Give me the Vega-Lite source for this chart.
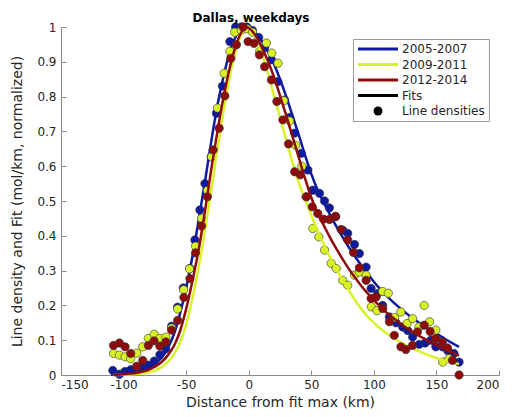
{
  "$schema": "https://vega.github.io/schema/vega-lite/v6.json",
  "width": 438,
  "height": 348,
  "autosize": {"type": "none"},
  "padding": {"left": 61, "top": 27, "right": 16, "bottom": 42},
  "background": "white",
  "title": {"text": "Dallas, weekdays", "font": "DejaVu Sans", "fontSize": 12, "fontWeight": "bold", "color": "#000000", "anchor": "middle", "dx": -29, "offset": -4},
  "config": {
    "view": {"stroke": null},
    "axis": {"grid": false, "domainColor": "#8a8a8a", "tickColor": "#8a8a8a", "labelFont": "DejaVu Sans", "labelFontSize": 12, "labelColor": "#262626", "titleFont": "DejaVu Sans", "titleFontSize": 14, "titleFontWeight": "normal", "titleColor": "#262626", "tickSize": -5}
  },
  "datasets": {
    "fits": [
      {"s": "2005-2007", "x": -110, "y": 0.001}, {"s": "2005-2007", "x": -105, "y": 0.002}, {"s": "2005-2007", "x": -100, "y": 0.004}, {"s": "2005-2007", "x": -95, "y": 0.006}, {"s": "2005-2007", "x": -90, "y": 0.009}, {"s": "2005-2007", "x": -85, "y": 0.014}, {"s": "2005-2007", "x": -80, "y": 0.021}, {"s": "2005-2007", "x": -75, "y": 0.032}, {"s": "2005-2007", "x": -70, "y": 0.048}, {"s": "2005-2007", "x": -65, "y": 0.075}, {"s": "2005-2007", "x": -60, "y": 0.115}, {"s": "2005-2007", "x": -55, "y": 0.175}, {"s": "2005-2007", "x": -50, "y": 0.25}, {"s": "2005-2007", "x": -45, "y": 0.34}, {"s": "2005-2007", "x": -40, "y": 0.445}, {"s": "2005-2007", "x": -35, "y": 0.555}, {"s": "2005-2007", "x": -30, "y": 0.67}, {"s": "2005-2007", "x": -25, "y": 0.775}, {"s": "2005-2007", "x": -20, "y": 0.86}, {"s": "2005-2007", "x": -15, "y": 0.93}, {"s": "2005-2007", "x": -10, "y": 0.975}, {"s": "2005-2007", "x": -5, "y": 0.997}, {"s": "2005-2007", "x": -2, "y": 1.0}, {"s": "2005-2007", "x": 0, "y": 0.998}, {"s": "2005-2007", "x": 5, "y": 0.985}, {"s": "2005-2007", "x": 10, "y": 0.962}, {"s": "2005-2007", "x": 15, "y": 0.932}, {"s": "2005-2007", "x": 20, "y": 0.895}, {"s": "2005-2007", "x": 25, "y": 0.85}, {"s": "2005-2007", "x": 30, "y": 0.8}, {"s": "2005-2007", "x": 35, "y": 0.745}, {"s": "2005-2007", "x": 40, "y": 0.69}, {"s": "2005-2007", "x": 45, "y": 0.632}, {"s": "2005-2007", "x": 50, "y": 0.578}, {"s": "2005-2007", "x": 55, "y": 0.532}, {"s": "2005-2007", "x": 60, "y": 0.495}, {"s": "2005-2007", "x": 65, "y": 0.46}, {"s": "2005-2007", "x": 70, "y": 0.427}, {"s": "2005-2007", "x": 75, "y": 0.396}, {"s": "2005-2007", "x": 80, "y": 0.367}, {"s": "2005-2007", "x": 85, "y": 0.34}, {"s": "2005-2007", "x": 90, "y": 0.315}, {"s": "2005-2007", "x": 95, "y": 0.291}, {"s": "2005-2007", "x": 100, "y": 0.268}, {"s": "2005-2007", "x": 105, "y": 0.247}, {"s": "2005-2007", "x": 110, "y": 0.228}, {"s": "2005-2007", "x": 115, "y": 0.211}, {"s": "2005-2007", "x": 120, "y": 0.195}, {"s": "2005-2007", "x": 125, "y": 0.18}, {"s": "2005-2007", "x": 130, "y": 0.166}, {"s": "2005-2007", "x": 135, "y": 0.153}, {"s": "2005-2007", "x": 140, "y": 0.141}, {"s": "2005-2007", "x": 145, "y": 0.13}, {"s": "2005-2007", "x": 150, "y": 0.119}, {"s": "2005-2007", "x": 155, "y": 0.108}, {"s": "2005-2007", "x": 160, "y": 0.097}, {"s": "2005-2007", "x": 165, "y": 0.087}, {"s": "2005-2007", "x": 168, "y": 0.081},
      {"s": "2009-2011", "x": -108, "y": 0.0}, {"s": "2009-2011", "x": -100, "y": 0.001}, {"s": "2009-2011", "x": -95, "y": 0.002}, {"s": "2009-2011", "x": -90, "y": 0.003}, {"s": "2009-2011", "x": -85, "y": 0.005}, {"s": "2009-2011", "x": -80, "y": 0.008}, {"s": "2009-2011", "x": -75, "y": 0.013}, {"s": "2009-2011", "x": -70, "y": 0.022}, {"s": "2009-2011", "x": -65, "y": 0.036}, {"s": "2009-2011", "x": -60, "y": 0.058}, {"s": "2009-2011", "x": -55, "y": 0.092}, {"s": "2009-2011", "x": -50, "y": 0.145}, {"s": "2009-2011", "x": -45, "y": 0.22}, {"s": "2009-2011", "x": -40, "y": 0.31}, {"s": "2009-2011", "x": -35, "y": 0.415}, {"s": "2009-2011", "x": -30, "y": 0.53}, {"s": "2009-2011", "x": -25, "y": 0.65}, {"s": "2009-2011", "x": -20, "y": 0.76}, {"s": "2009-2011", "x": -15, "y": 0.86}, {"s": "2009-2011", "x": -10, "y": 0.935}, {"s": "2009-2011", "x": -5, "y": 0.985}, {"s": "2009-2011", "x": -1, "y": 1.0}, {"s": "2009-2011", "x": 0, "y": 0.999}, {"s": "2009-2011", "x": 5, "y": 0.975}, {"s": "2009-2011", "x": 10, "y": 0.93}, {"s": "2009-2011", "x": 15, "y": 0.87}, {"s": "2009-2011", "x": 20, "y": 0.805}, {"s": "2009-2011", "x": 25, "y": 0.74}, {"s": "2009-2011", "x": 30, "y": 0.675}, {"s": "2009-2011", "x": 35, "y": 0.61}, {"s": "2009-2011", "x": 40, "y": 0.553}, {"s": "2009-2011", "x": 45, "y": 0.505}, {"s": "2009-2011", "x": 50, "y": 0.46}, {"s": "2009-2011", "x": 55, "y": 0.415}, {"s": "2009-2011", "x": 60, "y": 0.375}, {"s": "2009-2011", "x": 65, "y": 0.338}, {"s": "2009-2011", "x": 70, "y": 0.304}, {"s": "2009-2011", "x": 75, "y": 0.273}, {"s": "2009-2011", "x": 80, "y": 0.243}, {"s": "2009-2011", "x": 85, "y": 0.215}, {"s": "2009-2011", "x": 90, "y": 0.19}, {"s": "2009-2011", "x": 95, "y": 0.168}, {"s": "2009-2011", "x": 100, "y": 0.15}, {"s": "2009-2011", "x": 105, "y": 0.134}, {"s": "2009-2011", "x": 110, "y": 0.12}, {"s": "2009-2011", "x": 115, "y": 0.108}, {"s": "2009-2011", "x": 120, "y": 0.097}, {"s": "2009-2011", "x": 125, "y": 0.087}, {"s": "2009-2011", "x": 130, "y": 0.078}, {"s": "2009-2011", "x": 135, "y": 0.07}, {"s": "2009-2011", "x": 140, "y": 0.062}, {"s": "2009-2011", "x": 145, "y": 0.055}, {"s": "2009-2011", "x": 150, "y": 0.049}, {"s": "2009-2011", "x": 155, "y": 0.043}, {"s": "2009-2011", "x": 160, "y": 0.038}, {"s": "2009-2011", "x": 165, "y": 0.034}, {"s": "2009-2011", "x": 168, "y": 0.032},
      {"s": "2012-2014", "x": -108, "y": 0.0}, {"s": "2012-2014", "x": -105, "y": 0.001}, {"s": "2012-2014", "x": -100, "y": 0.002}, {"s": "2012-2014", "x": -95, "y": 0.004}, {"s": "2012-2014", "x": -90, "y": 0.006}, {"s": "2012-2014", "x": -85, "y": 0.01}, {"s": "2012-2014", "x": -80, "y": 0.015}, {"s": "2012-2014", "x": -75, "y": 0.024}, {"s": "2012-2014", "x": -70, "y": 0.036}, {"s": "2012-2014", "x": -65, "y": 0.055}, {"s": "2012-2014", "x": -60, "y": 0.082}, {"s": "2012-2014", "x": -55, "y": 0.125}, {"s": "2012-2014", "x": -50, "y": 0.19}, {"s": "2012-2014", "x": -45, "y": 0.27}, {"s": "2012-2014", "x": -40, "y": 0.36}, {"s": "2012-2014", "x": -35, "y": 0.47}, {"s": "2012-2014", "x": -30, "y": 0.59}, {"s": "2012-2014", "x": -25, "y": 0.7}, {"s": "2012-2014", "x": -20, "y": 0.8}, {"s": "2012-2014", "x": -15, "y": 0.885}, {"s": "2012-2014", "x": -10, "y": 0.95}, {"s": "2012-2014", "x": -5, "y": 0.99}, {"s": "2012-2014", "x": -2, "y": 1.0}, {"s": "2012-2014", "x": 0, "y": 0.997}, {"s": "2012-2014", "x": 5, "y": 0.978}, {"s": "2012-2014", "x": 10, "y": 0.945}, {"s": "2012-2014", "x": 15, "y": 0.905}, {"s": "2012-2014", "x": 20, "y": 0.858}, {"s": "2012-2014", "x": 25, "y": 0.803}, {"s": "2012-2014", "x": 30, "y": 0.745}, {"s": "2012-2014", "x": 35, "y": 0.685}, {"s": "2012-2014", "x": 40, "y": 0.625}, {"s": "2012-2014", "x": 45, "y": 0.565}, {"s": "2012-2014", "x": 50, "y": 0.51}, {"s": "2012-2014", "x": 55, "y": 0.465}, {"s": "2012-2014", "x": 60, "y": 0.43}, {"s": "2012-2014", "x": 65, "y": 0.395}, {"s": "2012-2014", "x": 70, "y": 0.363}, {"s": "2012-2014", "x": 75, "y": 0.333}, {"s": "2012-2014", "x": 80, "y": 0.305}, {"s": "2012-2014", "x": 85, "y": 0.28}, {"s": "2012-2014", "x": 90, "y": 0.256}, {"s": "2012-2014", "x": 95, "y": 0.235}, {"s": "2012-2014", "x": 100, "y": 0.215}, {"s": "2012-2014", "x": 105, "y": 0.197}, {"s": "2012-2014", "x": 110, "y": 0.18}, {"s": "2012-2014", "x": 115, "y": 0.165}, {"s": "2012-2014", "x": 120, "y": 0.151}, {"s": "2012-2014", "x": 125, "y": 0.138}, {"s": "2012-2014", "x": 130, "y": 0.126}, {"s": "2012-2014", "x": 135, "y": 0.115}, {"s": "2012-2014", "x": 140, "y": 0.105}, {"s": "2012-2014", "x": 145, "y": 0.095}, {"s": "2012-2014", "x": 150, "y": 0.086}, {"s": "2012-2014", "x": 155, "y": 0.077}, {"s": "2012-2014", "x": 160, "y": 0.069}, {"s": "2012-2014", "x": 165, "y": 0.061}, {"s": "2012-2014", "x": 168, "y": 0.056}
    ],
    "dots": [
      {"s": "2005-2007", "x": -108.6, "y": 0.013}, {"s": "2005-2007", "x": -103.3, "y": 0.002}, {"s": "2005-2007", "x": -98.8, "y": 0.01}, {"s": "2005-2007", "x": -94.3, "y": 0.015}, {"s": "2005-2007", "x": -89.5, "y": 0.02}, {"s": "2005-2007", "x": -84.7, "y": 0.025}, {"s": "2005-2007", "x": -80.2, "y": 0.028}, {"s": "2005-2007", "x": -75.5, "y": 0.04}, {"s": "2005-2007", "x": -71, "y": 0.058}, {"s": "2005-2007", "x": -66.2, "y": 0.075}, {"s": "2005-2007", "x": -61.6, "y": 0.14}, {"s": "2005-2007", "x": -56.8, "y": 0.195}, {"s": "2005-2007", "x": -52.3, "y": 0.25}, {"s": "2005-2007", "x": -47, "y": 0.306}, {"s": "2005-2007", "x": -43, "y": 0.388}, {"s": "2005-2007", "x": -39, "y": 0.474}, {"s": "2005-2007", "x": -35, "y": 0.55}, {"s": "2005-2007", "x": -30, "y": 0.627}, {"s": "2005-2007", "x": -25.8, "y": 0.752}, {"s": "2005-2007", "x": -21, "y": 0.83}, {"s": "2005-2007", "x": -15.1, "y": 0.958}, {"s": "2005-2007", "x": -10.5, "y": 1.0}, {"s": "2005-2007", "x": -6, "y": 1.0}, {"s": "2005-2007", "x": -1.5, "y": 1.0}, {"s": "2005-2007", "x": 3, "y": 0.99}, {"s": "2005-2007", "x": 8, "y": 0.97}, {"s": "2005-2007", "x": 12.7, "y": 0.94}, {"s": "2005-2007", "x": 18.1, "y": 0.906}, {"s": "2005-2007", "x": 23.4, "y": 0.843}, {"s": "2005-2007", "x": 28.7, "y": 0.79}, {"s": "2005-2007", "x": 32.7, "y": 0.74}, {"s": "2005-2007", "x": 36.7, "y": 0.695}, {"s": "2005-2007", "x": 42, "y": 0.637}, {"s": "2005-2007", "x": 47.3, "y": 0.589}, {"s": "2005-2007", "x": 51.2, "y": 0.531}, {"s": "2005-2007", "x": 56.6, "y": 0.522}, {"s": "2005-2007", "x": 60.6, "y": 0.5}, {"s": "2005-2007", "x": 64.5, "y": 0.48}, {"s": "2005-2007", "x": 69.5, "y": 0.455}, {"s": "2005-2007", "x": 75.1, "y": 0.416}, {"s": "2005-2007", "x": 79.1, "y": 0.407}, {"s": "2005-2007", "x": 84.5, "y": 0.375}, {"s": "2005-2007", "x": 88.4, "y": 0.349}, {"s": "2005-2007", "x": 93.8, "y": 0.31}, {"s": "2005-2007", "x": 97.8, "y": 0.249}, {"s": "2005-2007", "x": 103, "y": 0.234}, {"s": "2005-2007", "x": 107, "y": 0.2}, {"s": "2005-2007", "x": 112.4, "y": 0.167}, {"s": "2005-2007", "x": 117.7, "y": 0.15}, {"s": "2005-2007", "x": 123, "y": 0.138}, {"s": "2005-2007", "x": 127, "y": 0.128}, {"s": "2005-2007", "x": 131, "y": 0.109}, {"s": "2005-2007", "x": 136.3, "y": 0.088}, {"s": "2005-2007", "x": 141, "y": 0.092}, {"s": "2005-2007", "x": 145.6, "y": 0.1}, {"s": "2005-2007", "x": 149.5, "y": 0.081}, {"s": "2005-2007", "x": 154.8, "y": 0.081}, {"s": "2005-2007", "x": 159, "y": 0.07}, {"s": "2005-2007", "x": 164, "y": 0.062}, {"s": "2005-2007", "x": 168.1, "y": 0.037},
      {"s": "2009-2011", "x": -108, "y": 0.062}, {"s": "2009-2011", "x": -103.3, "y": 0.057}, {"s": "2009-2011", "x": -98.8, "y": 0.052}, {"s": "2009-2011", "x": -94.3, "y": 0.047}, {"s": "2009-2011", "x": -89.5, "y": 0.063}, {"s": "2009-2011", "x": -84.7, "y": 0.081}, {"s": "2009-2011", "x": -80.2, "y": 0.105}, {"s": "2009-2011", "x": -75.5, "y": 0.117}, {"s": "2009-2011", "x": -71, "y": 0.105}, {"s": "2009-2011", "x": -66.2, "y": 0.109}, {"s": "2009-2011", "x": -61.6, "y": 0.135}, {"s": "2009-2011", "x": -56.8, "y": 0.19}, {"s": "2009-2011", "x": -52, "y": 0.245}, {"s": "2009-2011", "x": -47.3, "y": 0.305}, {"s": "2009-2011", "x": -42.5, "y": 0.37}, {"s": "2009-2011", "x": -37.7, "y": 0.45}, {"s": "2009-2011", "x": -33, "y": 0.53}, {"s": "2009-2011", "x": -29.7, "y": 0.627}, {"s": "2009-2011", "x": -25, "y": 0.767}, {"s": "2009-2011", "x": -19.7, "y": 0.867}, {"s": "2009-2011", "x": -15.1, "y": 0.93}, {"s": "2009-2011", "x": -11.2, "y": 0.985}, {"s": "2009-2011", "x": -6, "y": 0.99}, {"s": "2009-2011", "x": -1.5, "y": 0.995}, {"s": "2009-2011", "x": 3, "y": 0.985}, {"s": "2009-2011", "x": 8.8, "y": 0.93}, {"s": "2009-2011", "x": 14.1, "y": 0.954}, {"s": "2009-2011", "x": 18.5, "y": 0.925}, {"s": "2009-2011", "x": 23.4, "y": 0.896}, {"s": "2009-2011", "x": 28, "y": 0.788}, {"s": "2009-2011", "x": 32.7, "y": 0.73}, {"s": "2009-2011", "x": 37.5, "y": 0.66}, {"s": "2009-2011", "x": 42.5, "y": 0.6}, {"s": "2009-2011", "x": 46, "y": 0.512}, {"s": "2009-2011", "x": 51.2, "y": 0.421}, {"s": "2009-2011", "x": 56, "y": 0.397}, {"s": "2009-2011", "x": 60.6, "y": 0.359}, {"s": "2009-2011", "x": 65.9, "y": 0.321}, {"s": "2009-2011", "x": 69.9, "y": 0.306}, {"s": "2009-2011", "x": 75.1, "y": 0.272}, {"s": "2009-2011", "x": 79.1, "y": 0.258}, {"s": "2009-2011", "x": 84.5, "y": 0.287}, {"s": "2009-2011", "x": 88.4, "y": 0.296}, {"s": "2009-2011", "x": 93.8, "y": 0.287}, {"s": "2009-2011", "x": 98, "y": 0.196}, {"s": "2009-2011", "x": 102.5, "y": 0.185}, {"s": "2009-2011", "x": 107, "y": 0.24}, {"s": "2009-2011", "x": 111.5, "y": 0.235}, {"s": "2009-2011", "x": 116.5, "y": 0.165}, {"s": "2009-2011", "x": 121.6, "y": 0.181}, {"s": "2009-2011", "x": 126.5, "y": 0.148}, {"s": "2009-2011", "x": 131, "y": 0.162}, {"s": "2009-2011", "x": 136, "y": 0.138}, {"s": "2009-2011", "x": 140.2, "y": 0.2}, {"s": "2009-2011", "x": 144.5, "y": 0.153}, {"s": "2009-2011", "x": 149.5, "y": 0.129}, {"s": "2009-2011", "x": 155, "y": 0.037}, {"s": "2009-2011", "x": 160, "y": 0.047},
      {"s": "2012-2014", "x": -108, "y": 0.085}, {"s": "2012-2014", "x": -103.3, "y": 0.092}, {"s": "2012-2014", "x": -98.8, "y": 0.081}, {"s": "2012-2014", "x": -94.3, "y": 0.062}, {"s": "2012-2014", "x": -89.5, "y": 0.025}, {"s": "2012-2014", "x": -84.7, "y": 0.042}, {"s": "2012-2014", "x": -80.2, "y": 0.085}, {"s": "2012-2014", "x": -75.7, "y": 0.098}, {"s": "2012-2014", "x": -71, "y": 0.083}, {"s": "2012-2014", "x": -66.2, "y": 0.095}, {"s": "2012-2014", "x": -61.6, "y": 0.129}, {"s": "2012-2014", "x": -56.8, "y": 0.157}, {"s": "2012-2014", "x": -51.8, "y": 0.223}, {"s": "2012-2014", "x": -47, "y": 0.277}, {"s": "2012-2014", "x": -42.5, "y": 0.351}, {"s": "2012-2014", "x": -37.7, "y": 0.428}, {"s": "2012-2014", "x": -33, "y": 0.512}, {"s": "2012-2014", "x": -28.4, "y": 0.647}, {"s": "2012-2014", "x": -23.6, "y": 0.709}, {"s": "2012-2014", "x": -19.1, "y": 0.802}, {"s": "2012-2014", "x": -14.3, "y": 0.91}, {"s": "2012-2014", "x": -9.8, "y": 0.949}, {"s": "2012-2014", "x": -4.5, "y": 1.0}, {"s": "2012-2014", "x": -0.5, "y": 0.958}, {"s": "2012-2014", "x": 4.2, "y": 0.953}, {"s": "2012-2014", "x": 8.5, "y": 0.92}, {"s": "2012-2014", "x": 12.7, "y": 0.886}, {"s": "2012-2014", "x": 18.1, "y": 0.848}, {"s": "2012-2014", "x": 22.5, "y": 0.786}, {"s": "2012-2014", "x": 27.3, "y": 0.733}, {"s": "2012-2014", "x": 31.8, "y": 0.664}, {"s": "2012-2014", "x": 36.7, "y": 0.584}, {"s": "2012-2014", "x": 41.2, "y": 0.575}, {"s": "2012-2014", "x": 46, "y": 0.512}, {"s": "2012-2014", "x": 50.8, "y": 0.483}, {"s": "2012-2014", "x": 55.2, "y": 0.464}, {"s": "2012-2014", "x": 59.8, "y": 0.448}, {"s": "2012-2014", "x": 64.5, "y": 0.447}, {"s": "2012-2014", "x": 69.3, "y": 0.456}, {"s": "2012-2014", "x": 73.8, "y": 0.418}, {"s": "2012-2014", "x": 79.1, "y": 0.388}, {"s": "2012-2014", "x": 83.7, "y": 0.352}, {"s": "2012-2014", "x": 88.4, "y": 0.308}, {"s": "2012-2014", "x": 93.8, "y": 0.272}, {"s": "2012-2014", "x": 97.8, "y": 0.22}, {"s": "2012-2014", "x": 101.8, "y": 0.224}, {"s": "2012-2014", "x": 107.1, "y": 0.191}, {"s": "2012-2014", "x": 112.4, "y": 0.153}, {"s": "2012-2014", "x": 116.3, "y": 0.114}, {"s": "2012-2014", "x": 121.6, "y": 0.081}, {"s": "2012-2014", "x": 125.6, "y": 0.073}, {"s": "2012-2014", "x": 130.9, "y": 0.085}, {"s": "2012-2014", "x": 134.9, "y": 0.124}, {"s": "2012-2014", "x": 140.2, "y": 0.143}, {"s": "2012-2014", "x": 145, "y": 0.125}, {"s": "2012-2014", "x": 149.5, "y": 0.105}, {"s": "2012-2014", "x": 154.8, "y": 0.095}, {"s": "2012-2014", "x": 158.8, "y": 0.078}, {"s": "2012-2014", "x": 162.8, "y": 0.042}, {"s": "2012-2014", "x": 168.1, "y": 0.0}
    ]
  },
  "encoding": {
    "x": {"field": "x", "type": "quantitative", "scale": {"domain": [-150, 200], "nice": false, "zero": false}, "axis": {"title": "Distance from fit max (km)", "values": [-150, -100, -50, 0, 50, 100, 150, 200], "labelExpr": "'' + datum.value", "labelPadding": 9.5, "titlePadding": 5}},
    "y": {"field": "y", "type": "quantitative", "scale": {"domain": [0, 1], "nice": false}, "axis": {"title": "Line density and Fit (mol/km, normalized)", "values": [0, 0.1, 0.2, 0.3, 0.4, 0.5, 0.6, 0.7, 0.8, 0.9, 1], "labelExpr": "format(datum.value, '~g')", "labelPadding": 10, "titlePadding": 12}},
    "color": {
      "field": "s", "type": "nominal",
      "scale": {"domain": ["2005-2007", "2009-2011", "2012-2014", "Fits", "Line densities"], "range": ["#0f1b9e", "#d9f226", "#8e0c0c", "#000000", "#000000"]},
      "legend": {
        "title": null, "orient": "none", "legendX": 292, "legendY": 12, "direction": "vertical",
        "strokeColor": "#9a9a9a", "fillColor": "#ffffff", "padding": 4, "cornerRadius": 0,
        "labelFont": "DejaVu Sans", "labelFontSize": 12, "labelColor": "#262626",
        "symbolSize": 100, "rowPadding": 3.5, "symbolOffset": 15, "labelOffset": 18,
        "encode": {"symbols": {"update": {
          "shape": {"signal": "datum.value === 'Line densities' ? 'circle' : 'M-1,0H1'"},
          "size": {"signal": "datum.value === 'Line densities' ? 80 : 1600"},
          "fill": {"signal": "datum.value === 'Line densities' ? '#000000' : 'transparent'"},
          "stroke": {"signal": "scale('color', datum.value)"},
          "strokeWidth": {"signal": "datum.value === 'Line densities' ? 0 : 3"},
          "opacity": {"value": 1}
        }}}
      }
    }
  },
  "layer": [
    {"data": {"name": "dots"}, "transform": [{"filter": "datum.s === '2005-2007'"}], "mark": {"type": "point", "filled": true, "size": 70, "opacity": 1, "stroke": "#333333", "strokeWidth": 0.6}},
    {"data": {"name": "fits"}, "transform": [{"filter": "datum.s === '2005-2007'"}], "mark": {"type": "line", "strokeWidth": 2.5, "interpolate": "monotone"}},
    {"data": {"name": "dots"}, "transform": [{"filter": "datum.s === '2009-2011'"}], "mark": {"type": "point", "filled": true, "size": 70, "opacity": 1, "stroke": "#333333", "strokeWidth": 0.6}},
    {"data": {"name": "fits"}, "transform": [{"filter": "datum.s === '2009-2011'"}], "mark": {"type": "line", "strokeWidth": 2.5, "interpolate": "monotone"}},
    {"data": {"name": "dots"}, "transform": [{"filter": "datum.s === '2012-2014'"}], "mark": {"type": "point", "filled": true, "size": 70, "opacity": 1, "stroke": "#333333", "strokeWidth": 0.6}},
    {"data": {"name": "fits"}, "transform": [{"filter": "datum.s === '2012-2014'"}], "mark": {"type": "line", "strokeWidth": 2.5, "interpolate": "monotone"}}
  ]
}
